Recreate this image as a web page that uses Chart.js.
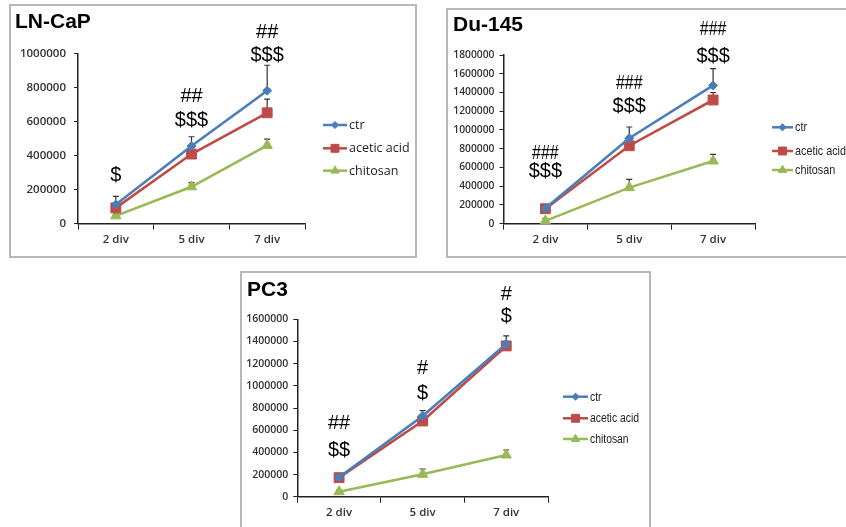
<!DOCTYPE html>
<html>
<head>
<meta charset="utf-8">
<script src="https://cdn.jsdelivr.net/npm/chart.js@4/dist/chart.umd.min.js"></script>
<style>
  html, body { margin: 0; padding: 0; background: #fff; width: 846px; height: 527px; overflow: hidden; }
  .box { position: absolute; border: 2px solid #b8b8b8; box-sizing: border-box; }
  .cv { position: absolute; }
</style>
</head>
<body>
<div class="box" style="left:9px;top:4px;width:408px;height:254px;"></div>
<div class="box" style="left:446px;top:8px;width:402px;height:250px;"></div>
<div class="box" style="left:240px;top:271px;width:411px;height:280px;"></div>
<canvas id="c1" class="cv" style="left:10px;top:5px;" width="406" height="252"></canvas>
<canvas id="c2" class="cv" style="left:447px;top:9px;" width="399" height="248"></canvas>
<canvas id="c3" class="cv" style="left:241px;top:272px;" width="409" height="265"></canvas>
<script>
// ---------- DATA ----------
const categories = ["2 div", "5 div", "7 div"];
const seriesNames = ["ctr", "acetic acid", "chitosan"];

// LN-CaP
const lncapCtr = [112000, 456000, 782000];
const lncapCtrErr = [48000, 55000, 150000];
const lncapAcetic = [92000, 409000, 652000];
const lncapAceticErr = [10000, 10000, 80000];
const lncapChitosan = [45000, 216000, 460000];
const lncapChitosanErr = [10000, 25000, 37000];
const lncapTicks = ["0", "200000", "400000", "600000", "800000", "1000000"];
const lncapSig = [["$"], ["##", "$$$"], ["##", "$$$"]];
const lncapSigY = [[284000], [746000, 605000], [1123000, 991000]];

// Du-145
const du145Ctr = [165000, 912000, 1475000];
const du145CtrErr = [15000, 120000, 180000];
const du145Acetic = [160000, 832000, 1320000];
const du145AceticErr = [10000, 10000, 80000];
const du145Chitosan = [30000, 385000, 669000];
const du145ChitosanErr = [28000, 89000, 71000];
const du145Ticks = ["0", "200000", "400000", "600000", "800000", "1000000", "1200000", "1400000", "1600000", "1800000"];
const du145Sig = [["###", "$$$"], ["###", "$$$"], ["###", "$$$"]];
const du145SigY = [[754000, 552000], [1501000, 1256000], [2072000, 1789000]];

// PC3
const pc3Ctr = [175000, 728000, 1378000];
const pc3CtrErr = [10000, 48000, 72000];
const pc3Acetic = [172000, 683000, 1360000];
const pc3AceticErr = [10000, 10000, 10000];
const pc3Chitosan = [45000, 202000, 376000];
const pc3ChitosanErr = [10000, 48000, 45000];
const pc3Ticks = ["0", "200000", "400000", "600000", "800000", "1000000", "1200000", "1400000", "1600000"];
const pc3Sig = [["##", "$$"], ["#", "$"], ["#", "$"]];
const pc3SigY = [[660000, 421000], [1156000, 935000], [1823000, 1625000]];

// ---------- STYLE ----------
const COLORS = ["#4a7ebb", "#be4b48", "#98b954"];
const STYLES = [
  { pointStyle: "rectRot", radius: 4.5 },
  { pointStyle: "rect", radius: 7 },
  { pointStyle: "triangle", radius: 6 }
];

function squeezedText(ctx, t, x, y, sx) {
  ctx.save();
  ctx.translate(x, y);
  ctx.scale(sx, 1);
  ctx.fillText(t, 0, 0);
  ctx.restore();
}

const errorBarPlugin = {
  id: "errorBars",
  beforeDatasetsDraw(chart) {
    const ctx = chart.ctx, ys = chart.scales.y;
    ctx.save();
    ctx.strokeStyle = "#333";
    ctx.lineWidth = 1.2;
    chart.data.datasets.forEach((ds, i) => {
      const meta = chart.getDatasetMeta(i);
      meta.data.forEach((pt, j) => {
        const top = ys.getPixelForValue(ds.data[j] + ds.errors[j]);
        ctx.beginPath();
        ctx.moveTo(pt.x, pt.y);
        ctx.lineTo(pt.x, top);
        ctx.moveTo(pt.x - 3, top);
        ctx.lineTo(pt.x + 3, top);
        ctx.stroke();
      });
    });
    ctx.restore();
  }
};

const annotPlugin = {
  id: "annot",
  afterDraw(chart, args, opts) {
    const ctx = chart.ctx, xs = chart.scales.x, ys = chart.scales.y;
    ctx.save();
    ctx.fillStyle = "#000";
    ctx.textAlign = "center";
    ctx.textBaseline = "middle";
    opts.labels.forEach((lines, j) => {
      lines.forEach((t, k) => {
        ctx.font = opts.font;
        const isHash = t.indexOf("#") >= 0;
        squeezedText(ctx, t, xs.getPixelForValue(j), ys.getPixelForValue(opts.y[j][k]), isHash ? opts.hashSqueeze : 1);
      });
    });
    // legend
    const L = opts.legend;
    ctx.textAlign = "left";
    ctx.font = L.font;
    chart.data.datasets.forEach((ds, i) => {
      const y = L.ys[i];
      ctx.strokeStyle = ds.borderColor;
      ctx.lineWidth = 2.5;
      ctx.beginPath();
      ctx.moveTo(L.x0, y);
      ctx.lineTo(L.x1, y);
      ctx.stroke();
      ctx.fillStyle = ds.backgroundColor;
      ctx.strokeStyle = ds.borderColor;
      ctx.lineWidth = 1;
      Chart.helpers.drawPoint(ctx, { pointStyle: ds.pointStyle, radius: ds.pointRadius * 0.8, rotation: 0, borderWidth: 1 }, (L.x0 + L.x1) / 2, y);
      ctx.fillStyle = "#222";
      squeezedText(ctx, ds.label, L.x1 + 2, y + 0.5, L.squeeze);
    });
    ctx.restore();
  }
};

function makePanel(id, p) {
  const datasets = p.series.map((vals, i) => ({
    label: seriesNames[i],
    data: vals,
    errors: p.errors[i],
    borderColor: COLORS[i],
    backgroundColor: COLORS[i],
    borderWidth: 2.6,
    pointStyle: STYLES[i].pointStyle,
    pointRadius: STYLES[i].radius,
    pointBorderWidth: 1,
    tension: 0,
    clip: false
  }));
  new Chart(document.getElementById(id), {
    type: "line",
    data: { labels: categories, datasets },
    options: {
      responsive: false,
      animation: false,
      events: [],
      layout: { padding: { left: p.padLeft, right: p.padRight, top: 0, bottom: 0 } },
      plugins: {
        legend: { display: false },
        tooltip: { enabled: false },
        title: {
          display: true, text: p.title, align: "start", color: "#000",
          font: { family: "Liberation Sans, Arial, sans-serif", size: 21, weight: "bold", lineHeight: 1.2 },
          padding: { top: p.titleTop, bottom: p.titleBottom }
        },
        annot: { labels: p.sig, y: p.sigY, font: p.sigFont, hashSqueeze: p.hashSqueeze, legend: p.legend }
      },
      scales: {
        x: {
          offset: true,
          grid: { offset: true, drawOnChartArea: false, drawTicks: true, tickLength: 6, color: "#222", lineWidth: 1 },
          border: { display: true, color: "#222", width: 1.5 },
          ticks: { color: "#333", padding: 3, font: { family: "Open Sans, sans-serif", size: p.xFont, weight: "600" } },
          afterFit(s) { s.height = p.xHeight; }
        },
        y: {
          min: 0, max: p.max,
          grid: { drawOnChartArea: false, drawTicks: true, tickLength: 4, color: "#222", lineWidth: 1 },
          border: { display: true, color: "#222", width: 1.5 },
          ticks: {
            stepSize: 200000, color: "#333", padding: p.yPad,
            font: { family: "Open Sans, sans-serif", size: p.yFont, weight: "600" },
            callback: (v, i) => p.ticks[i]
          },
          afterFit(s) { s.width = p.yWidth; }
        }
      }
    },
    plugins: [errorBarPlugin, annotPlugin]
  });
}

makePanel("c1", {
  title: "LN-CaP",
  series: [lncapCtr, lncapAcetic, lncapChitosan],
  errors: [lncapCtrErr, lncapAceticErr, lncapChitosanErr],
  ticks: lncapTicks, max: 1000000,
  sig: lncapSig, sigY: lncapSigY,
  sigFont: "20px 'Liberation Sans', Arial, sans-serif", hashSqueeze: 1,
  padLeft: 5, yWidth: 63, padRight: 111, xHeight: 33.5,
  titleTop: 4.9, titleBottom: 18.6,
  yFont: 11.5, xFont: 11.5, yPad: 8,
  legend: { x0: 313, x1: 337, ys: [120, 143.3, 165.7], font: "12.5px 'Open Sans', sans-serif", squeeze: 1 }
});

makePanel("c2", {
  title: "Du-145",
  series: [du145Ctr, du145Acetic, du145Chitosan],
  errors: [du145CtrErr, du145AceticErr, du145ChitosanErr],
  ticks: du145Ticks, max: 1800000,
  sig: du145Sig, sigY: du145SigY,
  sigFont: "20px 'Liberation Sans', Arial, sans-serif", hashSqueeze: 0.8,
  padLeft: 6, yWidth: 50.5, padRight: 91, xHeight: 33.3,
  titleTop: 3.4, titleBottom: 17.4,
  yFont: 10.3, xFont: 11.5, yPad: 5,
  legend: { x0: 325, x1: 346, ys: [118.3, 142, 161], font: "13px 'Liberation Sans', sans-serif", squeeze: 0.83 }
});

makePanel("c3", {
  title: "PC3",
  series: [pc3Ctr, pc3Acetic, pc3Chitosan],
  errors: [pc3CtrErr, pc3AceticErr, pc3ChitosanErr],
  ticks: pc3Ticks, max: 1600000,
  sig: pc3Sig, sigY: pc3SigY,
  sigFont: "20px 'Liberation Sans', Arial, sans-serif", hashSqueeze: 1,
  padLeft: 6, yWidth: 50.3, padRight: 102, xHeight: 40.3,
  titleTop: 5.9, titleBottom: 16.2,
  yFont: 10.5, xFont: 11.5, yPad: 5,
  legend: { x0: 322, x1: 347, ys: [124.7, 146.3, 167], font: "12.5px 'Liberation Sans', sans-serif", squeeze: 0.83 }
});
</script>
</body>
</html>
